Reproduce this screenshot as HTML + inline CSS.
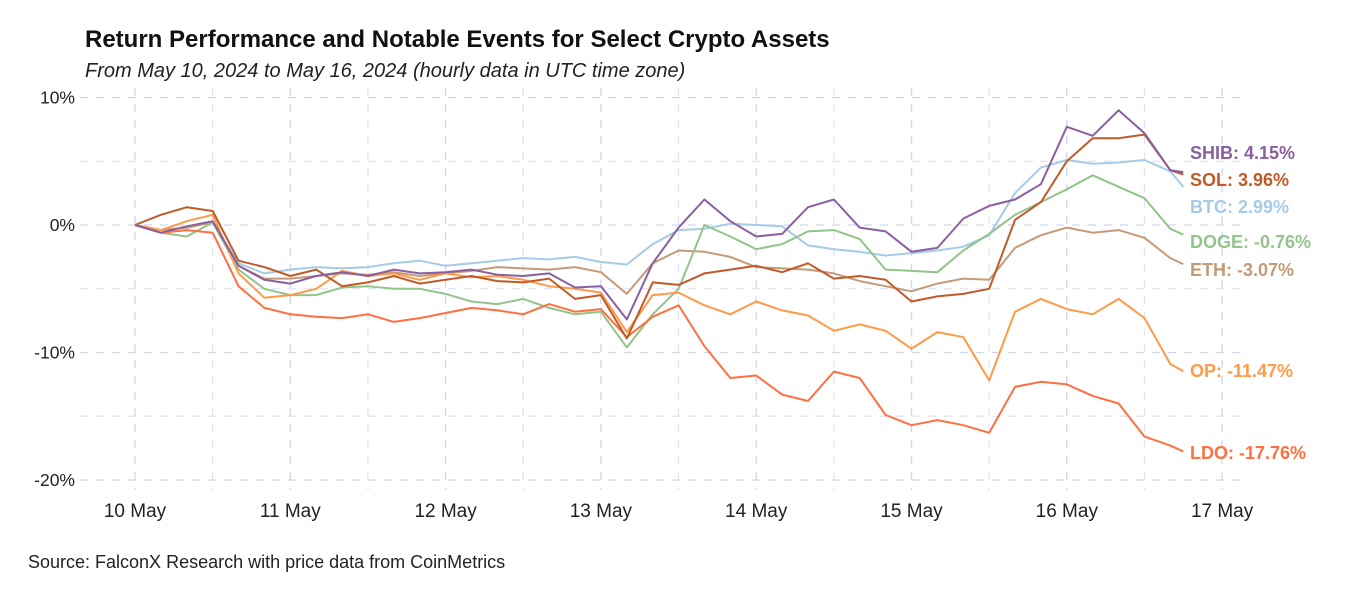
<!DOCTYPE html>
<html><head><meta charset="utf-8">
<style>
body{margin:0;background:#fff;font-family:"Liberation Sans",Arial,sans-serif;}
svg{display:block}
</style></head>
<body>
<svg id="chart" width="1350" height="600">
<text x="85" y="47" font-size="24" font-weight="bold" fill="#111">Return Performance and Notable Events for Select Crypto Assets</text>
<text x="85" y="77" font-size="20" font-style="italic" fill="#222">From May 10, 2024 to May 16, 2024 (hourly data in UTC time zone)</text>
<text x="28" y="568" font-size="18" fill="#222">Source: FalconX Research with price data from CoinMetrics</text>
<g id="grid"></g>
<g id="axes"></g>
<g id="series"></g>
<g id="labels"></g>
</svg>
<script>
const hours = [0,4,8,12,16,20,24,28,32,36,40,44,48,52,56,60,64,68,72,76,80,84,88,92,96,100,104,108,112,116,120,124,128,132,136,140,144,148,152,156,160,162];
const dayLabels = ["10 May","11 May","12 May","13 May","14 May","15 May","16 May","17 May"];
const yTicks = [10,0,-10,-20];
const seriesNames = ["BTC","ETH","DOGE","OP","LDO","SOL","SHIB"];
const btc = [0,-0.4,-0.2,0.2,-3.0,-3.8,-3.5,-3.3,-3.4,-3.3,-3.0,-2.8,-3.2,-3.0,-2.8,-2.6,-2.7,-2.5,-2.9,-3.1,-1.5,-0.4,-0.3,0.1,0,-0.1,-1.6,-1.9,-2.1,-2.4,-2.2,-2.0,-1.7,-0.8,2.5,4.5,5.1,4.8,4.9,5.1,4.2,2.99];
const eth = [0,-0.4,-0.2,0.2,-3.2,-4.2,-4.2,-4.0,-3.8,-3.9,-3.7,-4.0,-3.8,-3.6,-3.3,-3.4,-3.5,-3.3,-3.7,-5.4,-3.0,-2.0,-2.1,-2.5,-3.3,-3.4,-3.5,-3.8,-4.4,-4.8,-5.2,-4.6,-4.2,-4.3,-1.8,-0.8,-0.2,-0.6,-0.4,-1.0,-2.6,-3.07];
const doge = [0,-0.6,-0.9,0.2,-3.5,-5.0,-5.5,-5.5,-4.9,-4.8,-5.0,-5.0,-5.4,-6.0,-6.2,-5.8,-6.5,-7.0,-6.8,-9.6,-7.0,-5.0,0,-0.9,-1.9,-1.5,-0.5,-0.4,-1.1,-3.5,-3.6,-3.7,-2.0,-0.7,0.8,1.8,2.8,3.9,3.0,2.1,-0.3,-0.76];
const op = [0,-0.4,0.3,0.8,-3.8,-5.7,-5.5,-5.0,-3.6,-4.0,-3.8,-4.3,-3.8,-4.1,-4.0,-4.3,-4.8,-5.0,-5.3,-8.4,-5.5,-5.3,-6.3,-7.0,-6.0,-6.7,-7.1,-8.3,-7.8,-8.3,-9.7,-8.4,-8.8,-12.2,-6.8,-5.8,-6.6,-7.0,-5.8,-7.3,-10.9,-11.47];
const ldo = [0,-0.6,-0.4,-0.6,-4.8,-6.5,-7.0,-7.2,-7.3,-7.0,-7.6,-7.3,-6.9,-6.5,-6.7,-7.0,-6.2,-6.8,-6.6,-8.8,-7.2,-6.3,-9.5,-12.0,-11.8,-13.3,-13.8,-11.5,-12.0,-14.9,-15.7,-15.3,-15.7,-16.3,-12.7,-12.3,-12.5,-13.4,-14.0,-16.6,-17.3,-17.76];
const sol = [0,0.8,1.4,1.1,-2.8,-3.3,-4.0,-3.5,-4.8,-4.5,-4.0,-4.6,-4.3,-4.0,-4.4,-4.5,-4.2,-5.8,-5.5,-8.9,-4.5,-4.7,-3.8,-3.5,-3.2,-3.7,-3.0,-4.2,-4.0,-4.3,-6.0,-5.6,-5.4,-5.0,0.4,1.8,5.0,6.8,6.8,7.1,4.3,3.96];
const shib = [0,-0.6,-0.1,0.3,-3.2,-4.3,-4.6,-4.0,-3.7,-4.0,-3.5,-3.8,-3.7,-3.5,-3.9,-4.0,-3.8,-4.9,-4.8,-7.4,-3.0,-0.2,2.0,0.3,-0.9,-0.7,1.4,2.0,-0.2,-0.5,-2.1,-1.8,0.5,1.5,2.0,3.2,7.7,7.0,9.0,7.2,4.3,4.15];
const labelTexts = ["BTC: 2.99%","ETH: -3.07%","DOGE: -0.76%","OP: -11.47%","LDO: -17.76%","SOL: 3.96%","SHIB: 4.15%"];

const NS="http://www.w3.org/2000/svg";
const X0=135, DAY=155.3, Y0=225, PCT=12.75;
const xs=h=>X0+h/24*DAY;
const ys=v=>Y0-v*PCT;
function mk(tag,attrs,parent){const e=document.createElementNS(NS,tag);for(const k in attrs)e.setAttribute(k,attrs[k]);parent.appendChild(e);return e;}
const grid=document.getElementById('grid'),axes=document.getElementById('axes'),ser=document.getElementById('series'),lab=document.getElementById('labels');
for(let v=10;v>=-20;v-=5){
  const l=mk('line',{x1:80,x2:1240,y1:ys(v),y2:ys(v),stroke:v%10===0?'#d0d6ee':'#e0e4f3','stroke-width':1.3,'stroke-dasharray':'8,8'},grid);
  
  
}
for(let d=0;d<=7;d+=0.5){
  const l=mk('line',{x1:xs(d*24),x2:xs(d*24),y1:88,y2:490,stroke:Number.isInteger(d)?'#d0d6ee':'#e0e4f3','stroke-width':1.3,'stroke-dasharray':'8,8'},grid);
  
  
}
yTicks.forEach(v=>{
  const t=mk('text',{x:75,y:ys(v)+6,'text-anchor':'end','font-size':17.5,fill:'#222'},axes);
  t.textContent=v+'%';
  
  
});
dayLabels.forEach((s,i)=>{
  const t=mk('text',{x:xs(i*24),y:517,'text-anchor':'middle','font-size':19,fill:'#222'},axes);
  t.textContent=s;
  
  
});
const data=[btc,eth,doge,op,ldo,sol,shib];
const colors=["#a6cbe6","#c59a78","#93c48b","#ff9a48","#ff7040","#c05a28","#8a5fa0"];
const labelY=[207,270,242,371,453,180,153];
data.forEach((arr,i)=>{
  const d=arr.map((v,j)=>(j?'L':'M')+xs(hours[j]).toFixed(1)+','+ys(v).toFixed(1)).join('');
  const p=mk('path',{d:d,fill:'none',stroke:colors[i],'stroke-width':2,'stroke-linejoin':'round'},ser);
  
  
  const t=mk('text',{x:1190,y:labelY[i]+6,'font-size':18,'font-weight':'bold',fill:colors[i]},lab);
  t.textContent=labelTexts[i];
  
  
});
</script>
</body></html>
